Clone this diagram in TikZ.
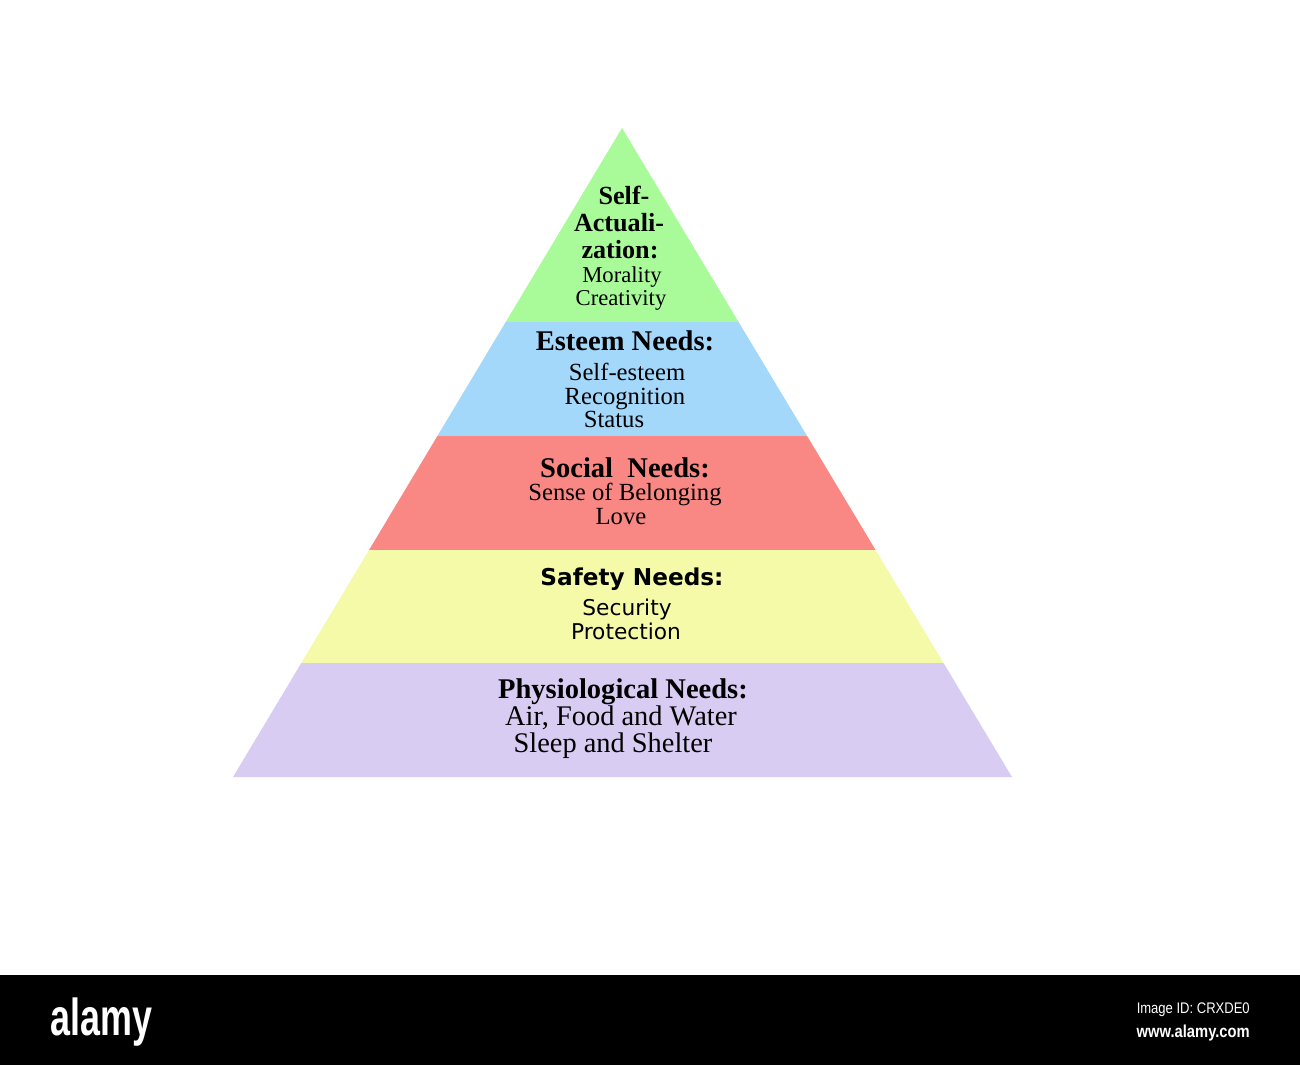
\documentclass[tikz,border=0pt]{standalone}
\usepackage{fontspec}
\setmainfont{Liberation Serif}
\newfontfamily\dejavu{DejaVu Sans}
\newfontfamily\libsans{Liberation Sans}
\usetikzlibrary{calc}
\definecolor{cgreen}{HTML}{A8FB98}
\definecolor{cblue}{HTML}{A3D8FB}
\definecolor{cred}{HTML}{F98884}
\definecolor{cyellow}{HTML}{F5FAA8}
\definecolor{clav}{HTML}{D8CCF2}
\tikzset{
  txt/.style={inner sep=0pt, anchor=base, text=black},
  ttl/.style={txt, font=\bfseries\fontsize{21.4}{24}\selectfont},
  bdy/.style={txt, font=\fontsize{18.5}{22}\selectfont},
  topttl/.style={txt, font=\bfseries\fontsize{19.6}{22}\selectfont},
  topbdy/.style={txt, font=\fontsize{17}{20}\selectfont},
  sttl/.style={txt, font=\dejavu\bfseries\fontsize{17.4}{20}\selectfont},
  sbdy/.style={txt, font=\dejavu\fontsize{16.3}{19}\selectfont},
  pbdy/.style={txt, font=\fontsize{21.3}{24}\selectfont},
}
\begin{document}
\begin{tikzpicture}[x=0.75pt,y=-0.75pt]
\useasboundingbox (0,0) rectangle (1300,1065);
\fill[white] (0,0) rectangle (1300,1065);
\coordinate (apex) at (622,128);
\coordinate (bl) at (233,777);
\coordinate (br) at (1012,777);
\begin{scope}
  \clip (apex) -- (bl) -- (br) -- cycle;
  \fill[cgreen]  (200,120) rectangle (1050,322);
  \fill[cblue]   (200,322) rectangle (1050,436);
  \fill[cred]    (200,436) rectangle (1050,550);
  \fill[cyellow] (200,550) rectangle (1050,663);
  \fill[clav]    (200,663) rectangle (1050,780);
\end{scope}
% Self-actualization
\node[topttl] (sa1) at (624,204) {Self-};
\node[topttl] (sa2) at (619,231) {Actuali-};
\node[topttl] (sa3) at (620,258) {zation:};
\node[topbdy] (sa4) at (622,282) {Morality};
\node[topbdy] (sa5) at (621,305) {Creativity};
% Esteem
\node[ttl] (es1) at (625,350) {Esteem Needs:};
\node[bdy] (es2) at (627,380) {Self-esteem};
\node[bdy] (es3) at (625,404) {Recognition};
\node[bdy] (es4) at (614,427) {Status};
% Social
\node[ttl] (so1) at (625,477) {Social\ \ Needs:};
\node[bdy] (so2) at (625,500) {Sense of Belonging};
\node[bdy] (so3) at (621,524) {Love};
% Safety
\node[sttl] (sf1) at (632,585) {Safety Needs:};
\node[sbdy] (sf2) at (627,615) {Security};
\node[sbdy] (sf3) at (626,639) {Protection};
% Physiological
\node[ttl] (ph1) at (623,698) {Physiological Needs:};
\node[pbdy] (ph2) at (621,725) {Air, Food and Water};
\node[pbdy] (ph3) at (613,752) {Sleep and Shelter};
% bottom bar
\fill[black] (0,975) rectangle (1300,1065);
\node[inner sep=0pt, anchor=base west, text=white, font=\libsans\bfseries\fontsize{39}{40}\selectfont] (logo) at (50,1035) {\scalebox{0.69}[1]{alamy}};
\node[inner sep=0pt, anchor=base east, text=white, font=\libsans\fontsize{11.5}{13}\selectfont] (imgid) at (1250,1013) {\scalebox{0.85}[1]{Image ID: CRXDE0}};
\node[inner sep=0pt, anchor=base east, text=white, font=\libsans\bfseries\fontsize{13}{15}\selectfont] (www) at (1250,1037) {\scalebox{0.85}[1]{www.alamy.com}};
\end{tikzpicture}
\end{document}
